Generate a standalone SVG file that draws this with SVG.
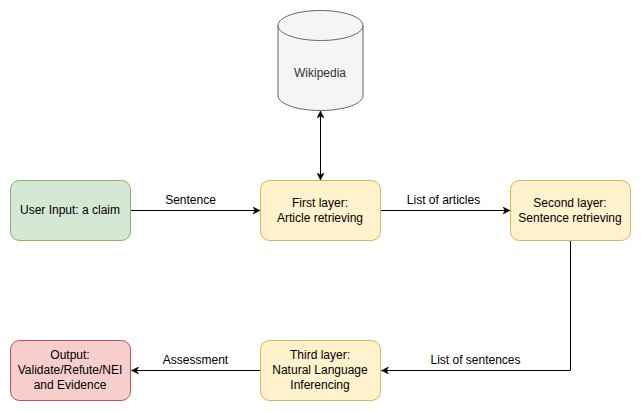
<svg xmlns="http://www.w3.org/2000/svg" width="641" height="412" viewBox="0 0 641 412">
<style>
text{font-family:"Liberation Sans",Arial,sans-serif;font-size:12px;fill:#000;text-anchor:middle}
.y{fill:#fff2cc;stroke:#d6b656}
.c{fill:none;stroke:#000;stroke-width:1}
</style>
<defs>
<marker id="a" viewBox="0 0 8 8" refX="7.500" refY="4" markerWidth="8" markerHeight="8" orient="auto-start-reverse" markerUnits="userSpaceOnUse"><path d="M0.500 0.500L7.500 4L0.500 7.500L2.500 4Z" fill="#000" stroke="#000" stroke-width="0.500"/></marker>
</defs>
<rect width="641" height="412" fill="#fff"/>
<g id="connectors">
<path class="c" d="M131 210.500H260" marker-end="url(#a)"/>
<path class="c" d="M381 210.500H510" marker-end="url(#a)"/>
<path class="c" d="M320.500 180V111" marker-end="url(#a)" marker-start="url(#a)"/>
<path class="c" d="M570.500 240V370.500H381.500" marker-end="url(#a)"/>
<path class="c" d="M260 370.500H131.500" marker-end="url(#a)"/>
<text x="190.500" y="204">Sentence</text>
<text x="443.500" y="204">List of articles</text>
<text x="475.500" y="364">List of sentences</text>
<text x="195.500" y="364">Assessment</text>
</g>
<g id="wikipedia">
<path d="M278 25.500C278 17 297 10.500 320.500 10.500S363 17 363 25.500V95.500C363 104 344 110.500 320.500 110.500S278 104 278 95.500Z" fill="#f5f5f5" stroke="#666"/>
<path d="M278 25.500C278 34 297 40.500 320.500 40.500S363 34 363 25.500" fill="none" stroke="#666"/>
<text x="320" y="77" style="fill:#333">Wikipedia</text>
</g>
<g id="user-input">
<rect x="10.500" y="180.500" width="120" height="60" rx="9" fill="#d5e8d4" stroke="#82b366"/>
<text x="70" y="214">User Input: a claim</text>
</g>
<g id="first-layer">
<rect class="y" x="260.500" y="180.500" width="120" height="60" rx="9"/>
<text x="320" y="207">First layer:</text>
<text x="320" y="222">Article retrieving</text>
</g>
<g id="second-layer">
<rect class="y" x="510.500" y="180.500" width="120" height="60" rx="9"/>
<text x="570" y="207">Second layer:</text>
<text x="570" y="222">Sentence retrieving</text>
</g>
<g id="third-layer">
<rect class="y" x="260.500" y="340.500" width="120" height="60" rx="9"/>
<text x="320" y="359">Third layer:</text>
<text x="320" y="374">Natural Language</text>
<text x="320" y="389">Inferencing</text>
</g>
<g id="output">
<rect x="10.500" y="340.500" width="120" height="60" rx="9" fill="#f8cecc" stroke="#b85450"/>
<text x="70" y="359">Output:</text>
<text x="70" y="374">Validate/Refute/NEI</text>
<text x="70" y="389">and Evidence</text>
</g>
</svg>
